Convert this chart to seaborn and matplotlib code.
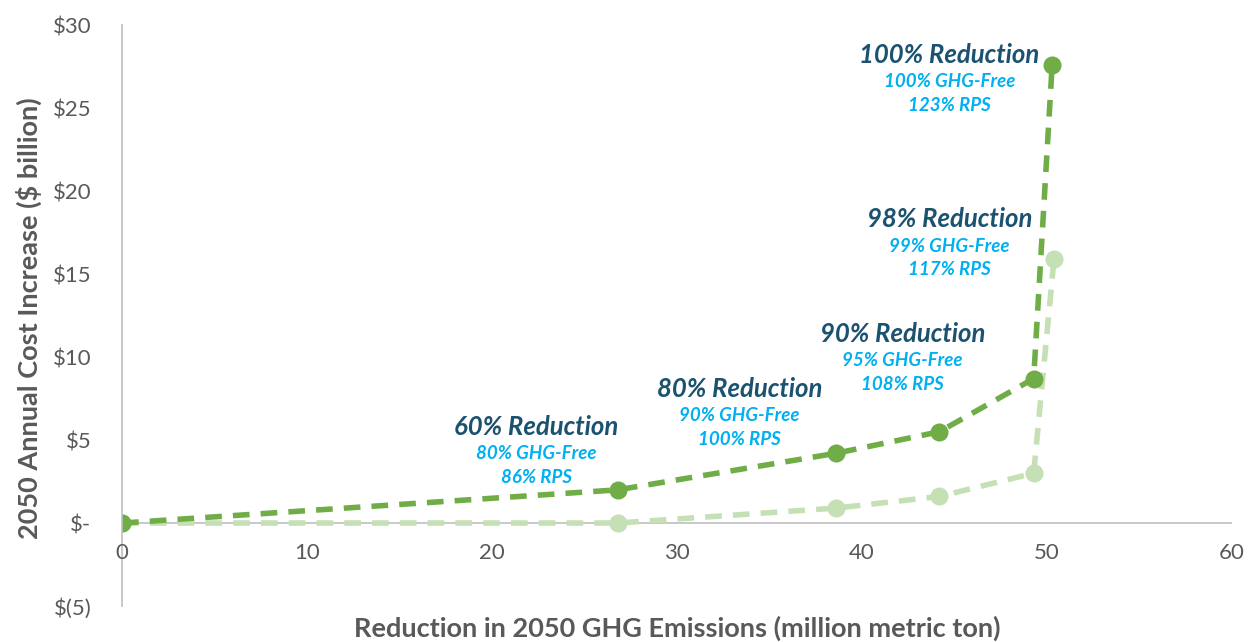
import matplotlib
matplotlib.use("Agg")
import matplotlib.pyplot as plt
import pandas as pd
import seaborn as sns

# emissions reduction (million metric ton) vs 2050 cost increase ($ billion)
reduction_high = [0, 26.8, 38.6, 44.2, 49.3, 50.3]
cost_high = [0, 2.0, 4.2, 5.5, 8.7, 27.6]
reduction_low = [0, 26.8, 38.6, 44.2, 49.3, 50.4]
cost_low = [0, 0.0, 0.9, 1.6, 3.0, 15.9]

scenario_titles = ["60% Reduction", "80% Reduction", "90% Reduction", "98% Reduction", "100% Reduction"]
scenario_ghg = ["80% GHG-Free", "90% GHG-Free", "95% GHG-Free", "99% GHG-Free", "100% GHG-Free"]
scenario_rps = ["86% RPS", "100% RPS", "108% RPS", "117% RPS", "123% RPS"]
label_pos = [(22.4, 5.8), (33.4, 8.1), (42.2, 11.4), (44.75, 18.3), (44.75, 28.2)]

y_ticks = [-5, 0, 5, 10, 15, 20, 25, 30]
y_ticklabels = ["$(5)", "$-", "$5", "$10", "$15", "$20", "$25", "$30"]
x_ticks = [0, 10, 20, 30, 40, 50, 60]

sns.set_style("white")
plt.rcParams["font.family"] = ["Lato", "DejaVu Sans"]

DARK = "#70AD47"
LIGHT = "#C5E0B4"
GREY = "#595959"
NAVY = "#1B5270"
SKY = "#00B0F0"

df = pd.concat([
    pd.DataFrame({"x": reduction_low, "y": cost_low, "case": "low"}),
    pd.DataFrame({"x": reduction_high, "y": cost_high, "case": "high"}),
])

fig = plt.figure(figsize=(12.48, 6.42), dpi=100)
ax = fig.add_axes([0.0978, 0.056, 0.889, 0.905])

for case, color in [("low", LIGHT), ("high", DARK)]:
    sub = df[df["case"] == case]
    sns.lineplot(data=sub, x="x", y="y", ax=ax, color=color, linewidth=4,
                 linestyle=(0, (3, 2)), marker="o", markersize=13,
                 markeredgewidth=0, sort=False, estimator=None)

ax.set_xlim(0, 60)
ax.set_ylim(-5, 30)
ax.set_yticks(y_ticks)
ax.set_yticklabels(y_ticklabels)
ax.set_xticks(x_ticks)
ax.tick_params(axis="both", length=0, labelsize=16, labelcolor=GREY)
ax.tick_params(axis="y", pad=22)
for lbl in ax.get_yticklabels():
    lbl.set_horizontalalignment("right")

for side in ["top", "right", "bottom"]:
    ax.spines[side].set_visible(False)
ax.spines["left"].set_color("#BFBFBF")
ax.spines["left"].set_linewidth(1.2)
ax.axhline(0, color="#BFBFBF", linewidth=1.2, zorder=0)

# x tick labels sit just under the zero line
ax.set_xticklabels([])
for xv in x_ticks:
    ax.text(xv, -1.2, str(xv), ha="center", va="top", fontsize=16, color=GREY)

ax.set_xlabel("")
ax.set_ylabel("")
fig.text(0.5 * (0.0978 + 0.987), 1 - 628 / 642,
         "Reduction in 2050 GHG Emissions (million metric ton)",
         ha="center", va="center", fontsize=19.5, fontweight="bold", color=GREY)
fig.text(29 / 1248, 1 - 318 / 642, "2050 Annual Cost Increase ($ billion)",
         ha="center", va="center", rotation=90, fontsize=19.5,
         fontweight="bold", color=GREY)

for (lx, ly), title, ghg, rps in zip(label_pos, scenario_titles, scenario_ghg, scenario_rps):
    ax.text(lx, ly, title, ha="center", va="center", fontsize=18.5,
            fontweight="bold", fontstyle="italic", color=NAVY)
    ax.text(lx, ly - 1.63, ghg, ha="center", va="center", fontsize=13.5,
            fontweight="bold", fontstyle="italic", color=SKY)
    ax.text(lx, ly - 3.05, rps, ha="center", va="center", fontsize=13.5,
            fontweight="bold", fontstyle="italic", color=SKY)

fig.savefig("out.png", dpi=100)
plt.close(fig)
